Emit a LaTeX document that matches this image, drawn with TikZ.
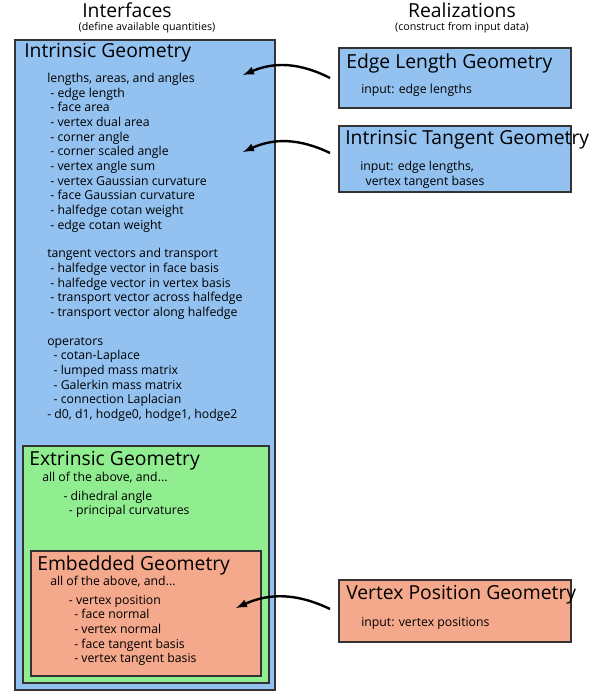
\documentclass[tikz,border=0pt]{standalone}
\usepackage{fontspec}
\setmainfont{Open Sans}
\definecolor{blu}{HTML}{93C1F0}
\definecolor{grn}{HTML}{90EE90}
\definecolor{sal}{HTML}{F4A88C}
\begin{document}
\begin{tikzpicture}[x=0.75pt,y=-0.75pt,
 box/.style={draw=black!80,line width=0.8pt},
 ttl/.style={anchor=west,font=\fontsize{14.5}{16}\selectfont,inner sep=0},
 big/.style={font=\fontsize{14.5}{16}\selectfont,inner sep=0},
 sm/.style={font=\fontsize{8}{9}\selectfont,inner sep=0},
 lst/.style={anchor=north west,align=left,inner sep=0,font=\fontsize{9.2}{11}\selectfont},
 arr/.style={-latex,line width=1.8pt}]
\useasboundingbox (0,0) rectangle (600,695);
\node[big] (t1) at (127,10) {Interfaces};
\node[sm] (t1s) at (147,28) {(define available quantities)};
\node[big] (t2) at (462,10) {Realizations};
\node[sm] (t2s) at (462,28) {(construct from input data)};
\draw[box,fill=blu] (15,40) rectangle (275,690);
\draw[box,fill=grn] (23,446) rectangle (269,683);
\draw[box,fill=sal] (31,551) rectangle (261,676);
\draw[box,fill=blu] (339,48) rectangle (571,108);
\draw[box,fill=blu] (339,126) rectangle (571,192);
\draw[box,fill=sal] (339,580) rectangle (571,642);
\node[ttl] (ig) at (24,53) {Intrinsic Geometry};
\node[lst] (il) at (47,73) {lengths, areas, and angles\\
\ - edge length\\ \ - face area\\ \ - vertex dual area\\ \ - corner angle\\ \ - corner scaled angle\\ \ - vertex angle sum\\ \ - vertex Gaussian curvature\\ \ - face Gaussian curvature\\ \ - halfedge cotan weight\\ \ - edge cotan weight\\[10.5pt]
tangent vectors and transport\\ \ - halfedge vector in face basis\\ \ - halfedge vector in vertex basis\\ \ - transport vector across halfedge\\ \ - transport vector along halfedge\\[10.5pt]
operators\\ \ \ - cotan-Laplace\\ \ \ - lumped mass matrix\\ \ \ - Galerkin mass matrix\\ \ \ - connection Laplacian\\ - d0, d1, hodge0, hodge1, hodge2};
\node[ttl] (eg) at (29,461) {Extrinsic Geometry};
\node[lst] (el) at (42,472) {all of the above, and...\\[3pt]
\hspace{16pt}- dihedral angle\\ \hspace{20pt}- principal curvatures};
\node[ttl] (mg) at (37,565) {Embedded Geometry};
\node[lst] (ml) at (50,576) {all of the above, and...\\[3pt]
\hspace{14pt}- vertex position\\ \hspace{18pt}- face normal\\ \hspace{18pt}- vertex normal\\ \hspace{18pt}- face tangent basis\\ \hspace{18pt}- vertex tangent basis};
\node[ttl] (el1) at (346,63) {Edge Length Geometry};
\node[lst] (el2) at (361,84) {input: edge lengths};
\node[ttl] (it1) at (345,140) {Intrinsic Tangent Geometry};
\node[lst] (it2) at (360,161) {input: edge lengths,\\ \hspace{4pt}vertex tangent bases};
\node[ttl] (vp1) at (346,595) {Vertex Position Geometry};
\node[lst] (vp2) at (361,617) {input: vertex positions};
\coordinate (a1) at (243,75); \coordinate (a2) at (243,152); \coordinate (a3) at (236,608);
\coordinate (s1) at (330,78); \coordinate (s2) at (330,153); \coordinate (s3) at (330,609);
\draw[arr] (s1) to[bend right=25] (a1);
\draw[arr] (s2) to[bend right=25] (a2);
\draw[arr] (s3) to[bend right=25] (a3);
\end{tikzpicture}
\end{document}
